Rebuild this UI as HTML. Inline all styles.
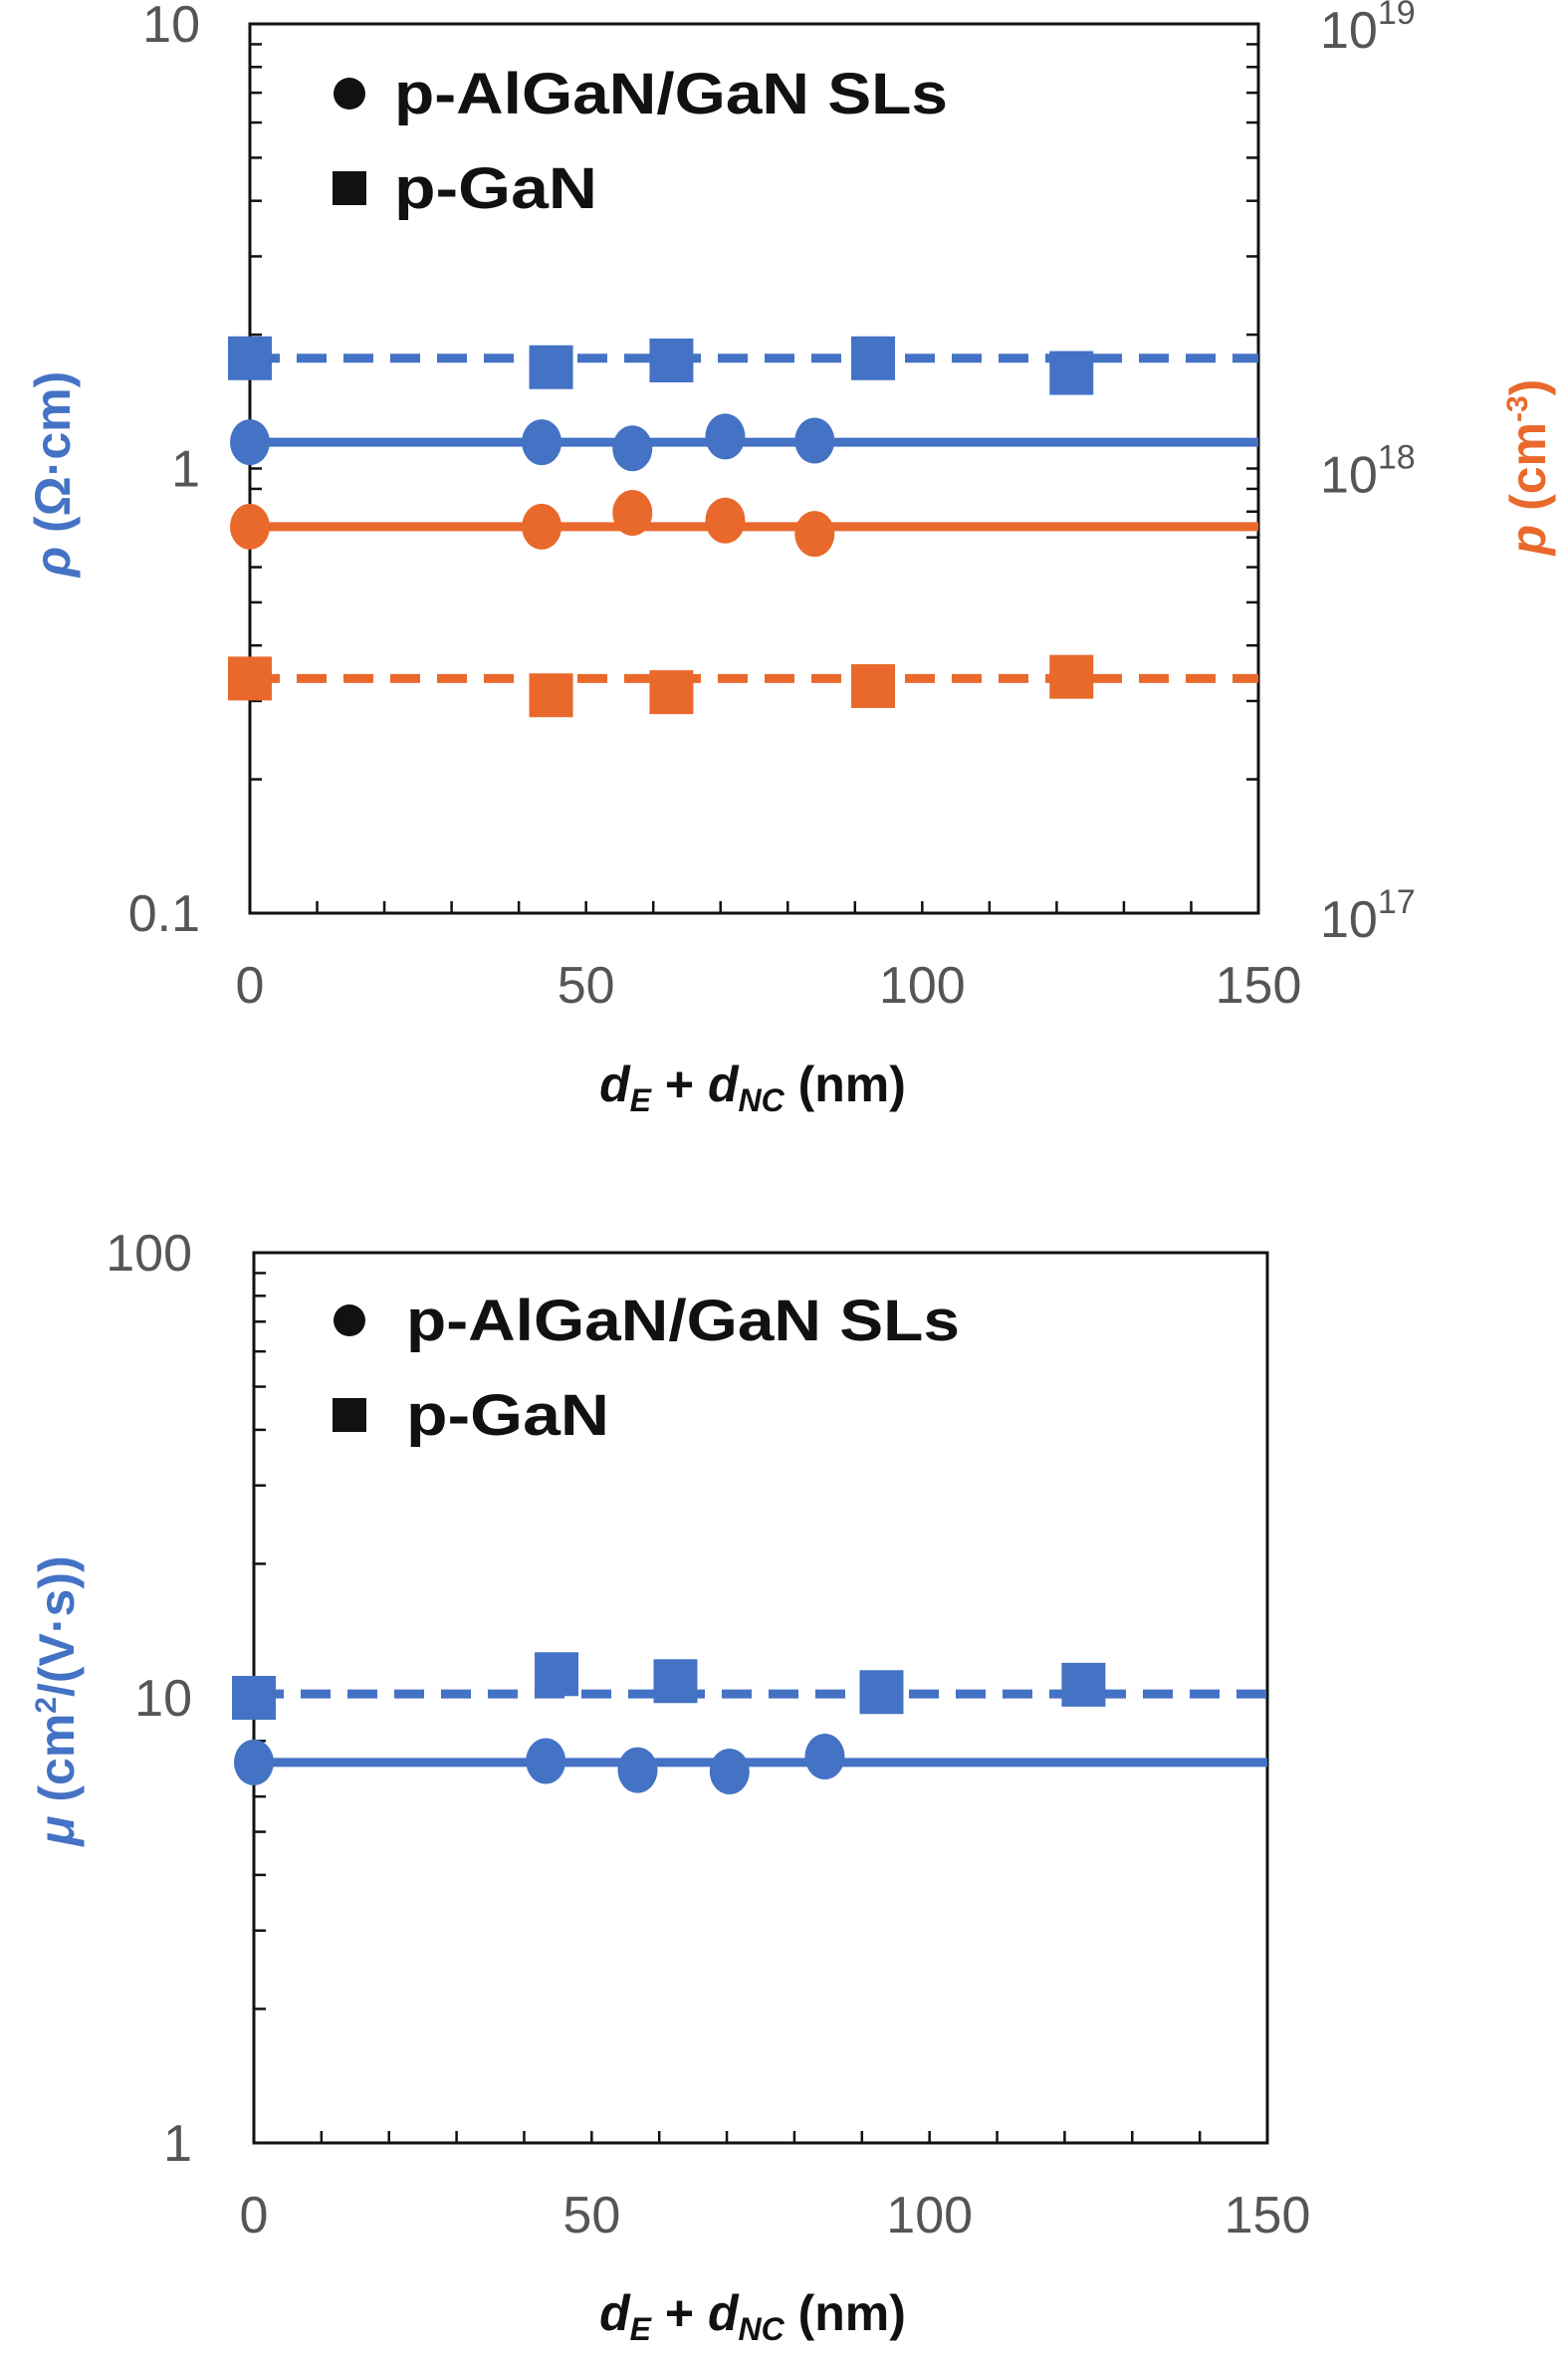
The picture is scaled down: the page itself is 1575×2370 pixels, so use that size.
<!DOCTYPE html>
<html><head><meta charset="utf-8"><style>
html,body{margin:0;padding:0;background:#fff;}
svg{display:block;}
text{font-family:"Liberation Sans",sans-serif;}
.tick{font-family:"Liberation Sans Narrow","Liberation Sans",sans-serif;font-size:52px;fill:#555;}
.title{font-size:50px;font-weight:bold;}
.leg{font-size:58px;font-weight:bold;fill:#111;}
</style></head><body>
<svg id="fig" width="1575" height="2370" viewBox="0 0 1575 2370" xmlns="http://www.w3.org/2000/svg">
<g id="top"></g>
<g id="bot"></g>
</svg>
<script>
const BLUE='#4472C4', ORANGE='#E9692C';
const xTicks=[0,50,100,150];
// top chart data
const rhoGaNx=[0,44.8,62.7,92.7,122.2];
const rhoGaN=[1.77,1.69,1.75,1.77,1.64];
const rhoGaNfit=1.77;
const rhoSLx=[0,43.4,56.9,70.7,84];
const rhoSL=[1.146,1.146,1.11,1.18,1.155];
const rhoSLfit=1.146;
const pSLx=[0,43.4,56.9,70.7,84];
const pSL=[7.4e17,7.4e17,7.95e17,7.64e17,7.13e17];
const pSLfit=7.4e17;
const pGaNx=[0,44.8,62.7,92.7,122.2];
const pGaN=[3.37e17,3.09e17,3.14e17,3.24e17,3.4e17];
const pGaNfit=3.37e17;
const leftTicksTop=['0.1','1','10'];
const rightTickExp=['17','18','19'];
// bottom chart data
const muGaNx=[0,44.8,62.4,92.9,122.8];
const muGaN=[10,11.3,10.9,10.3,10.7];
const muGaNfit=10.2;
const muSLx=[0,43.2,56.8,70.4,84.5];
const muSL=[7.16,7.21,6.88,6.83,7.38];
const muSLfit=7.16;
const leftTicksBot=['1','10','100'];

const NS='http://www.w3.org/2000/svg';
function mk(parent,tag,attrs){const e=document.createElementNS(NS,tag);for(const k in attrs)e.setAttribute(k,attrs[k]);parent.appendChild(e);return e;}

function chart(g,L,R,T,B,lmin,lmax,rightAxis){
  const sx=v=>L+(v-0)/150*(R-L);
  const sy=v=>B-(Math.log10(v)-Math.log10(lmin))/(Math.log10(lmax)-Math.log10(lmin))*(B-T);
  const frame=mk(g,'rect',{x:L,y:T,width:R-L,height:B-T,fill:'none',stroke:'#111','stroke-width':3});
  
  
  for(let v=10;v<150;v+=10){
    const t=mk(g,'line',{x1:sx(v),x2:sx(v),y1:B,y2:B-12,stroke:'#111','stroke-width':2.5});
    
    
  }
  for(let d=Math.log10(lmin);d<Math.log10(lmax);d++){
    for(let m=2;m<=9;m++){
      const y=sy(m*Math.pow(10,d));
      const t=mk(g,'line',{x1:L,x2:L+12,y1:y,y2:y,stroke:'#111','stroke-width':2.5});
      
      
      if(rightAxis){const t2=mk(g,'line',{x1:R,x2:R-12,y1:y,y2:y,stroke:'#111','stroke-width':2.5});
        
        }
    }
    if(d>Math.log10(lmin)){const y=sy(Math.pow(10,d));
      const t=mk(g,'line',{x1:L,x2:L+12,y1:y,y2:y,stroke:'#111','stroke-width':2.5});
      
      
      if(rightAxis){const t2=mk(g,'line',{x1:R,x2:R-12,y1:y,y2:y,stroke:'#111','stroke-width':2.5});
        
        }}
  }
  xTicks.forEach(v=>{const t=mk(g,'text',{x:sx(v),y:B+90,'text-anchor':'middle',class:'tick'});t.textContent=v;
    
    });
  return {sx,sy};
}
function series(g,ax,xs,ys,fit,color,shape,dashed,name,R,L){
  const y=ax.sy(fit);
  const ln=mk(g,'line',{x1:L,x2:R,y1:y,y2:y,stroke:color,'stroke-width':9,'stroke-dasharray':dashed?'30 17':'none'});
  
  
  xs.forEach((x,i)=>{
    const cx=ax.sx(x),cy=ax.sy(ys[i]);let m;
    if(shape==='c') m=mk(g,'ellipse',{cx,cy,rx:20,ry:23,fill:color});
    else m=mk(g,'rect',{x:cx-22,y:cy-22,width:44,height:44,fill:color});
    
    
  });
}
function legend(g,y1,y2,tx){
  const c=mk(g,'circle',{cx:351,cy:y1,r:16,fill:'#111'});
  
  
  const t1=mk(g,'text',{x:tx,y:y1+20,class:'leg',textLength:556,lengthAdjust:'spacingAndGlyphs'});t1.textContent='p-AlGaN/GaN SLs';
  
  
  const s=mk(g,'rect',{x:334,y:y2-17,width:34,height:34,fill:'#111'});
  
  
  const t2=mk(g,'text',{x:tx,y:y2+20,class:'leg',textLength:204,lengthAdjust:'spacingAndGlyphs'});t2.textContent='p-GaN';
  
  
}
function xtitle(g,y){
  const t=mk(g,'text',{x:756,y:y,'text-anchor':'middle',class:'title',fill:'#111'});
  t.innerHTML='<tspan font-style="italic">d</tspan><tspan font-size="32" dy="10" font-style="italic">E</tspan><tspan dy="-10"> + </tspan><tspan font-style="italic">d</tspan><tspan font-size="32" dy="10" font-style="italic">NC</tspan><tspan dy="-10"> (nm)</tspan>';
  
  
}
// TOP
const gt=document.getElementById('top');
const L1=251,R1=1264,T1=24,B1=917;
const ax1=chart(gt,L1,R1,T1,B1,0.1,10,true);
const ax1r={sx:ax1.sx,sy:v=>ax1.sy(v/1e18)};
leftTicksTop.forEach(s=>{const t=mk(gt,'text',{x:L1-50,y:ax1.sy(parseFloat(s))+18,'text-anchor':'end',class:'tick'});t.textContent=s;
  
  });
rightTickExp.forEach(e=>{const t=mk(gt,'text',{x:R1+62,y:ax1.sy(Math.pow(10,parseInt(e)-18))+24,class:'tick'});
  t.innerHTML='10<tspan font-size="34" dy="-24">'+e+'</tspan>';
  
  });
series(gt,ax1,rhoGaNx,rhoGaN,rhoGaNfit,BLUE,'s',true,'rho-gan',R1,L1);
series(gt,ax1,rhoSLx,rhoSL,rhoSLfit,BLUE,'c',false,'rho-sls',R1,L1);
series(gt,ax1r,pSLx,pSL,pSLfit,ORANGE,'c',false,'p-sls',R1,L1);
series(gt,ax1r,pGaNx,pGaN,pGaNfit,ORANGE,'s',true,'p-gan',R1,L1);
legend(gt,94,189,396);
xtitle(gt,1106);
{const t=mk(gt,'text',{x:0,y:0,class:'title',fill:BLUE,transform:'translate(70,476) rotate(-90)','text-anchor':'middle'});
 t.innerHTML='<tspan font-style="italic">ρ</tspan> (Ω·cm)';
 
 }
{const t=mk(gt,'text',{x:0,y:0,class:'title',fill:ORANGE,transform:'translate(1552,469) rotate(-90)','text-anchor':'middle'});
 t.innerHTML='<tspan font-style="italic">p</tspan> (cm<tspan font-size="30" dy="-18">-3</tspan><tspan dy="18">)</tspan>';
 
 }
// BOTTOM
const gb=document.getElementById('bot');
const L2=255,R2=1273,T2=1258,B2=2152;
const ax2=chart(gb,L2,R2,T2,B2,1,100,false);
leftTicksBot.forEach(s=>{const t=mk(gb,'text',{x:L2-62,y:ax2.sy(parseFloat(s))+18,'text-anchor':'end',class:'tick'});t.textContent=s;
  
  });
series(gb,ax2,muGaNx,muGaN,muGaNfit,BLUE,'s',true,'mu-gan',R2,L2);
series(gb,ax2,muSLx,muSL,muSLfit,BLUE,'c',false,'mu-sls',R2,L2);
legend(gb,1326,1421,408);
xtitle(gb,2340);
{const t=mk(gb,'text',{x:0,y:0,class:'title',fill:BLUE,transform:'translate(74,1708) rotate(-90)','text-anchor':'middle'});
 t.innerHTML='<tspan font-style="italic">μ</tspan> (cm<tspan font-size="30" dy="-18">2</tspan><tspan dy="18">/(V·s))</tspan>';
 
 }
</script>
</body></html>
